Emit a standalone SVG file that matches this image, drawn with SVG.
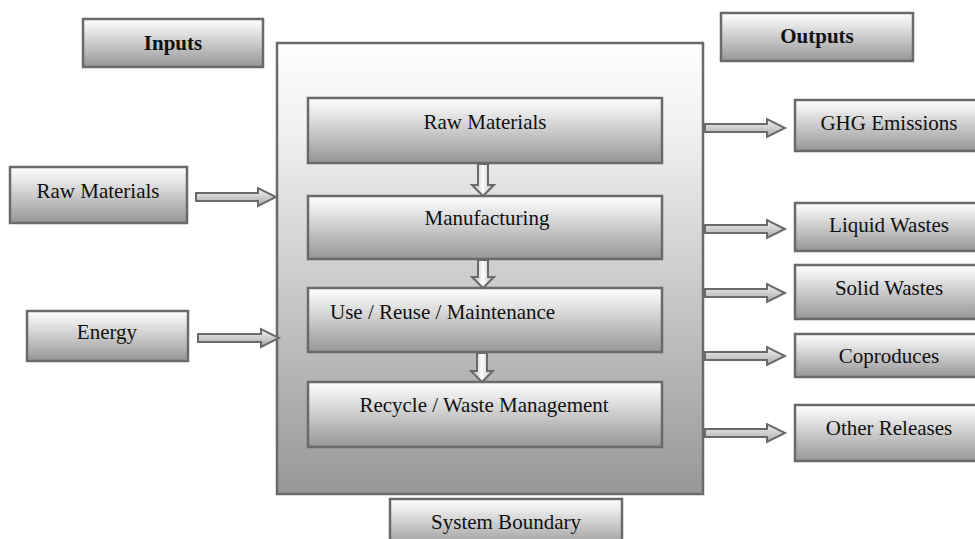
<svg xmlns="http://www.w3.org/2000/svg" width="975" height="539" viewBox="0 0 975 539">
<defs>
<linearGradient id="gBox" x1="0" y1="0" x2="0" y2="1">
<stop offset="0" stop-color="#ffffff"/>
<stop offset="0.25" stop-color="#e6e6e6"/>
<stop offset="1" stop-color="#969696"/>
</linearGradient>
<linearGradient id="gSys" x1="0" y1="0" x2="0" y2="1">
<stop offset="0" stop-color="#fefefe"/>
<stop offset="0.2" stop-color="#f0f0f0"/>
<stop offset="1" stop-color="#979797"/>
</linearGradient>
<linearGradient id="gArrH" x1="0" y1="0" x2="0" y2="1">
<stop offset="0" stop-color="#f4f4f4"/>
<stop offset="1" stop-color="#a8a8a8"/>
</linearGradient>
<linearGradient id="gArrV" x1="0" y1="0" x2="1" y2="0">
<stop offset="0" stop-color="#a8a8a8"/>
<stop offset="0.5" stop-color="#ffffff"/>
<stop offset="1" stop-color="#a8a8a8"/>
</linearGradient>
</defs>
<style>
.box{fill:url(#gBox);stroke:#6a6a6a;stroke-width:2.5}
.sys{fill:url(#gSys);stroke:#6a6a6a;stroke-width:2.5}
.ah{fill:url(#gArrH);stroke:#6a6a6a;stroke-width:2}
.av{fill:url(#gArrV);stroke:#6a6a6a;stroke-width:2}
.t{font-family:"Liberation Serif","Times New Roman",serif;font-size:21px;fill:#111}
.b{font-weight:bold}
.m{text-anchor:middle}
</style>
<rect width="975" height="539" fill="#ffffff"/>

<g id="system-boundary">
<rect class="sys" x="277" y="43" width="426" height="451"/>
</g>

<g id="inputs-header">
<rect class="box" x="83" y="19" width="180" height="48"/>
<text class="t b m" x="173" y="50">Inputs</text>
</g>
<g id="outputs-header">
<rect class="box" x="721" y="13" width="192" height="48"/>
<text class="t b m" x="817" y="43">Outputs</text>
</g>

<g id="in-raw-materials">
<rect class="box" x="10" y="167" width="177" height="56"/>
<text class="t m" x="98" y="198">Raw Materials</text>
</g>
<g id="in-energy">
<rect class="box" x="27" y="311" width="161" height="50"/>
<text class="t m" x="107" y="339">Energy</text>
</g>

<g id="stage-raw-materials">
<rect class="box" x="308" y="98" width="354" height="65"/>
<text class="t m" x="485" y="129">Raw Materials</text>
</g>
<g id="stage-manufacturing">
<rect class="box" x="308" y="196" width="354" height="63"/>
<text class="t m" x="487" y="225">Manufacturing</text>
</g>
<g id="stage-use">
<rect class="box" x="308" y="288" width="354" height="64"/>
<text class="t" x="330" y="319">Use / Reuse / Maintenance</text>
</g>
<g id="stage-recycle">
<rect class="box" x="308" y="382" width="354" height="65"/>
<text class="t m" x="484" y="412">Recycle / Waste Management</text>
</g>

<g id="out-ghg">
<rect class="box" x="795" y="100" width="190" height="51"/>
<text class="t m" x="889" y="130">GHG Emissions</text>
</g>
<g id="out-liquid">
<rect class="box" x="795" y="203" width="190" height="48"/>
<text class="t m" x="889" y="232">Liquid Wastes</text>
</g>
<g id="out-solid">
<rect class="box" x="795" y="265" width="190" height="54"/>
<text class="t m" x="889" y="295">Solid Wastes</text>
</g>
<g id="out-coproduces">
<rect class="box" x="795" y="334" width="190" height="43"/>
<text class="t m" x="889" y="363">Coproduces</text>
</g>
<g id="out-other">
<rect class="box" x="795" y="405" width="190" height="56"/>
<text class="t m" x="889" y="435">Other Releases</text>
</g>

<g id="system-boundary-label">
<rect class="box" x="390" y="499" width="232" height="50"/>
<text class="t m" x="506" y="529">System Boundary</text>
</g>

<g id="connectors">
<polygon class="ah" points="196,193 258,193 258,188 276,197 258,206 258,201 196,201"/>
<polygon class="ah" points="198,334 261,334 261,329 279,338 261,347 261,342 198,342"/>
<polygon class="ah" points="705,124 767,124 767,119 785,128 767,137 767,132 705,132"/>
<polygon class="ah" points="705,225 767,225 767,220 785,229 767,238 767,233 705,233"/>
<polygon class="ah" points="705,289 767,289 767,284 785,293 767,302 767,297 705,297"/>
<polygon class="ah" points="705,352 767,352 767,347 785,356 767,365 767,360 705,360"/>
<polygon class="ah" points="705,429 767,429 767,424 785,433 767,442 767,437 705,437"/>
<polygon class="av" points="478,164 488,164 488,185 494,185 483,196 472,185 478,185"/>
<polygon class="av" points="478,260 488,260 488,277 494,277 483,288 472,277 478,277"/>
<polygon class="av" points="477,353 487,353 487,371 493,371 482,382 471,371 477,371"/>
</g>
</svg>
